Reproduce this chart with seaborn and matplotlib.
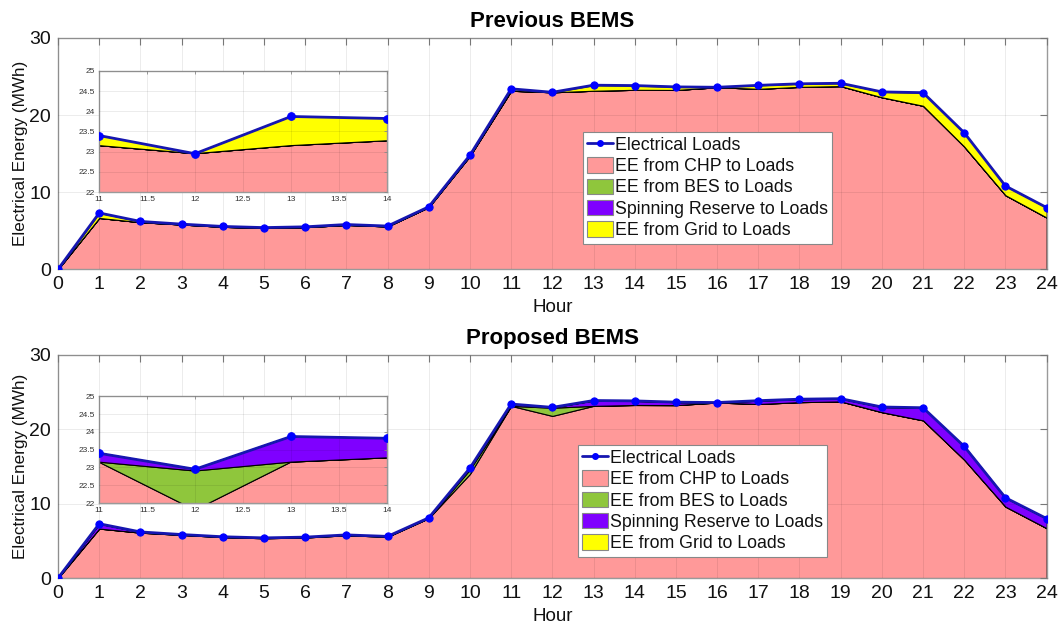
import numpy as np
import pandas as pd
import matplotlib
matplotlib.use("Agg")
import matplotlib.pyplot as plt
import seaborn as sns
from matplotlib.patches import Patch
from matplotlib.lines import Line2D
from matplotlib.ticker import FormatStrFormatter, MultipleLocator

# ---------------- data ----------------
hours = list(range(25))
loads = [0, 7.3, 6.2, 5.85, 5.55, 5.4, 5.5, 5.8, 5.6, 8.1, 14.8, 23.4, 22.95,
         23.87, 23.82, 23.65, 23.6, 23.85, 24.05, 24.12, 23.0, 22.9, 17.7, 10.8, 8.0]

# Previous BEMS
chp_prev = [0, 6.65, 6.1, 5.8, 5.5, 5.35, 5.45, 5.75, 5.55, 8.05, 14.7, 23.15, 22.95,
            23.15, 23.27, 23.25, 23.6, 23.4, 23.65, 23.75, 22.3, 21.2, 15.9, 9.6, 6.7]
bes_prev = [0] * 25
sr_prev = [0] * 25
grid_prev = [0, 0.65, 0.1, 0.05, 0.05, 0.05, 0.05, 0.05, 0.05, 0.05, 0.1, 0.25, 0.0,
             0.72, 0.55, 0.4, 0.0, 0.45, 0.4, 0.37, 0.7, 1.7, 1.8, 1.2, 1.3]

# Proposed BEMS
chp_prop = [0, 6.65, 6.1, 5.8, 5.5, 5.35, 5.45, 5.75, 5.55, 8.05, 14.0, 23.15, 21.8,
            23.15, 23.27, 23.25, 23.6, 23.4, 23.65, 23.75, 22.3, 21.2, 15.9, 9.6, 6.7]
bes_prop = [0, 0, 0, 0, 0, 0, 0, 0, 0, 0, 0.6, 0, 1.1,
            0, 0, 0, 0, 0, 0, 0, 0, 0, 0, 0, 0]
sr_prop = [0, 0.65, 0.1, 0.05, 0.05, 0.05, 0.05, 0.05, 0.05, 0.05, 0.2, 0.25, 0.05,
           0.72, 0.55, 0.4, 0.0, 0.45, 0.4, 0.37, 0.7, 1.7, 1.8, 1.2, 1.3]
grid_prop = [0] * 25

titles = ["Previous BEMS", "Proposed BEMS"]
labels = ["Electrical Loads", "EE from CHP to Loads", "EE from BES to Loads",
          "Spinning Reserve to Loads", "EE from Grid to Loads"]

# ---------------- style ----------------
C_CHP = "#ff9999"
C_BES = "#8fc63c"
C_SR = "#7f00ff"
C_GRID = "#ffff00"
C_LINE = "#1616b0"
C_MARK = "#0000ff"
SPINE = "#9a9a9a"
TXT = "#111111"

sns.set_theme(style="white")
plt.rcParams["font.family"] = ["Liberation Sans", "DejaVu Sans"]

fig = plt.figure(figsize=(10.63, 6.32), dpi=100)
ax_top = fig.add_axes([0.0546, 0.574, 0.930, 0.366])
ax_bot = fig.add_axes([0.0546, 0.0854, 0.930, 0.353])
in_top = fig.add_axes([0.0931, 0.696, 0.271, 0.192])
in_bot = fig.add_axes([0.0931, 0.204, 0.271, 0.169])

df = pd.DataFrame({"Hour": hours, "Load": loads})


def draw(ax, chp, bes, sr, grid, lw=2.0, ms=5.2):
    ax.stackplot(hours, chp, bes, sr, grid,
                 colors=[C_CHP, C_BES, C_SR, C_GRID],
                 edgecolor="black", linewidth=0.8)
    sns.lineplot(data=df, x="Hour", y="Load", ax=ax, color=C_LINE, linewidth=lw,
                 marker="o", markersize=ms, markerfacecolor=C_MARK,
                 markeredgecolor=C_MARK, zorder=5)
    ax.set_axisbelow(False)
    ax.grid(True, color="black", alpha=0.09, linewidth=0.6)
    for s in ax.spines.values():
        s.set_color(SPINE)
        s.set_linewidth(1.0)
    ax.set_facecolor("white")


for ax, inax, data, title in [
        (ax_top, in_top, (chp_prev, bes_prev, sr_prev, grid_prev), titles[0]),
        (ax_bot, in_bot, (chp_prop, bes_prop, sr_prop, grid_prop), titles[1])]:
    draw(ax, *data)
    ax.set_xlim(0, 24)
    ax.set_ylim(0, 30)
    ax.set_xticks(hours)
    ax.set_yticks([0, 10, 20, 30])
    ax.tick_params(direction="in", top=True, right=True, length=5, width=0.8,
                   color="#777777", labelsize=14, pad=5, labelcolor=TXT)
    ax.set_xlabel("Hour", fontsize=13.5, labelpad=4, color=TXT)
    ax.set_ylabel("Electrical Energy (MWh)", fontsize=12.3, labelpad=1, color=TXT)
    ax.set_title(title, fontsize=16, fontweight="bold", pad=8, color="black")

    handles = [Line2D([], [], color=C_LINE, lw=2, marker="o", markersize=4,
                      markerfacecolor=C_MARK, markeredgecolor=C_MARK)]
    for c in [C_CHP, C_BES, C_SR, C_GRID]:
        handles.append(Patch(facecolor=c, edgecolor="#888888", linewidth=0.8))
    anchor = (0.531, 0.595) if ax is ax_top else (0.526, 0.598)
    leg = ax.legend(handles, labels, loc="upper left", bbox_to_anchor=anchor,
                    borderaxespad=0, fontsize=12.8, frameon=True, fancybox=False,
                    handlelength=1.45, handleheight=0.95, handletextpad=0.1,
                    labelspacing=0.2, borderpad=0.25)
    for t in leg.get_texts():
        t.set_color(TXT)
    leg.get_frame().set_edgecolor("#888888")
    leg.get_frame().set_linewidth(0.8)
    leg.get_frame().set_facecolor("white")
    leg.get_frame().set_alpha(1)

    # inset zoom
    draw(inax, *data, lw=2.0, ms=5.5)
    inax.set_xlim(11, 14)
    inax.set_ylim(22, 25)
    inax.xaxis.set_major_locator(MultipleLocator(0.5))
    inax.yaxis.set_major_locator(MultipleLocator(0.5))
    inax.xaxis.set_major_formatter(FormatStrFormatter("%g"))
    inax.yaxis.set_major_formatter(FormatStrFormatter("%g"))
    inax.tick_params(direction="in", top=True, right=True, length=2.5, width=0.6,
                     color="#888888", labelsize=6, pad=3, labelcolor="#333333")
    inax.set_xlabel("")
    inax.set_ylabel("")

fig.savefig("out.png", dpi=100)
